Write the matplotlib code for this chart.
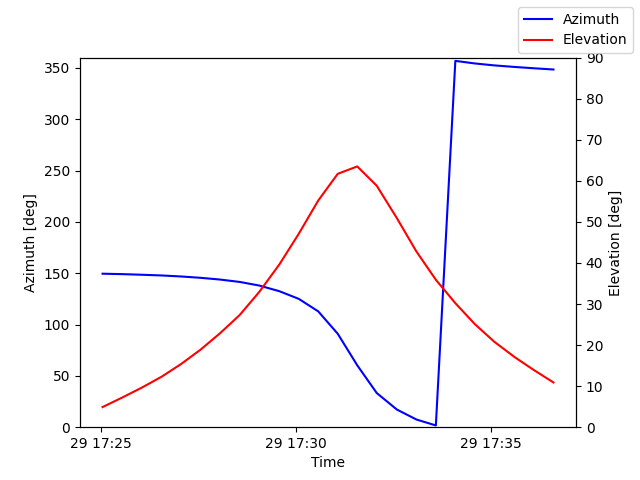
import matplotlib
matplotlib.use("Agg")
import matplotlib.pyplot as plt
import pandas as pd

# pass samples (day 29)
times = ["17:25:02", "17:25:32", "17:26:02", "17:26:33", "17:27:03", "17:27:33",
         "17:28:03", "17:28:33", "17:29:03", "17:29:34", "17:30:04", "17:30:34",
         "17:31:04", "17:31:34", "17:32:04", "17:32:35", "17:33:05", "17:33:35",
         "17:34:05", "17:34:35", "17:35:05", "17:35:36", "17:36:06", "17:36:36"]
azimuth = [149.5, 149.1, 148.5, 147.8, 146.8, 145.5, 143.8, 141.5, 138.0, 132.5,
           125.0, 112.8, 91.0, 60.3, 33.3, 17.2, 7.5, 1.7,
           356.8, 354.3, 352.4, 350.9, 349.6, 348.4]
elevation = [4.9, 7.2, 9.6, 12.3, 15.4, 18.9, 22.9, 27.3, 32.9, 39.6,
             47.1, 55.2, 61.7, 63.5, 58.8, 50.9, 42.8, 35.9,
             30.2, 25.1, 20.8, 17.1, 13.9, 10.9]

t = pd.to_datetime(["2023-08-29 " + s for s in times]).to_pydatetime()

fig, ax1 = plt.subplots(figsize=(6.4, 4.8), dpi=100)
ax1.plot(t, azimuth, color="blue", label="Azimuth")
ax1.set_ylim(0, 360)
ax1.set_xlabel("Time")
ax1.set_ylabel("Azimuth [deg]")

ax2 = ax1.twinx()
ax2.plot(t, elevation, color="red", label="Elevation")
ax2.set_ylim(0, 90)
ax2.set_ylabel("Elevation [deg]")

fig.legend(loc="upper right")
fig.savefig("out.png")
